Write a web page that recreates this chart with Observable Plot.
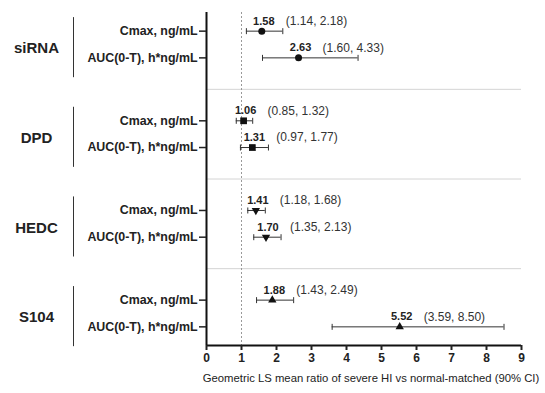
<!DOCTYPE html>
<html><head><meta charset="utf-8">
<script src="https://cdn.jsdelivr.net/npm/d3@7"></script>
<script src="https://cdn.jsdelivr.net/npm/@observablehq/plot@0.6"></script>
<style>body{margin:0;background:#fff;}</style>
</head><body><div id="chart"></div>
<script>
const groups = ["siRNA", "DPD", "HEDC", "S104"];
const metrics = ["Cmax, ng/mL", "AUC(0-T), h*ng/mL"];
const estimates = [1.58, 2.63, 1.06, 1.31, 1.41, 1.70, 1.88, 5.52];
const lowers    = [1.14, 1.60, 0.85, 0.97, 1.18, 1.35, 1.43, 3.59];
const uppers    = [2.18, 4.33, 1.32, 1.77, 1.68, 2.13, 2.49, 8.50];
const xTicks = [0, 1, 2, 3, 4, 5, 6, 7, 8, 9];
const refRatio = 1;
const xLabel = "Geometric LS mean ratio of severe HI vs normal-matched (90% CI)";

const W = 545, H = 393, ML = 206, MR = 24, MT = 12, MB = 48;
const font = "'Liberation Sans', Arial, Helvetica, sans-serif";
const rowOffset = 0.149;
const yDomain = [-0.357, groups.length - 1 + 0.357];

const rows = [];
groups.forEach((g, gi) => metrics.forEach((m, mi) => {
  const k = gi * metrics.length + mi;
  rows.push({gi, group: g, metric: m, y: gi + (mi === 0 ? -rowOffset : rowOffset),
    est: estimates[k], lo: lowers[k], hi: uppers[k]});
}));
const groupRows = groups.map((name, gi) => ({name, gi}));
const separators = groups.slice(1).map((_, i) => i + 0.5);
const labelMap = new Map(rows.map(r => [r.y, r.metric]));

const triangleDown = {draw(ctx, size) {
  const y = -Math.sqrt(size / (Math.sqrt(3) * 3));
  ctx.moveTo(0, -y * 2);
  ctx.lineTo(-Math.sqrt(3) * y, y);
  ctx.lineTo(Math.sqrt(3) * y, y);
  ctx.closePath();
}};
const capSymbol = {draw(ctx, size) {
  const r = Math.sqrt(size / Math.PI);
  ctx.moveTo(0, -r); ctx.lineTo(0, r);
}};
const symbols = ["circle", "square", triangleDown, "triangle"];
const symbolR = [3.5, 3.8, 3.1, 3.1];

const centerX = (ML + W - MR) / 2;

const chart = Plot.plot({
  width: W, height: H,
  marginLeft: ML, marginRight: MR, marginTop: MT, marginBottom: MB,
  style: {fontFamily: font, color: "#222", background: "#fff"},
  x: {domain: [0, 9]},
  y: {domain: yDomain, reverse: true},
  marks: [
    Plot.ruleY(separators, {stroke: "#d4d4d4", strokeWidth: 1}),
    Plot.ruleX([refRatio], {stroke: "#999", strokeDasharray: "2,2", strokeWidth: 1}),
    Plot.ruleX([0], {stroke: "#111", strokeWidth: 2}),
    Plot.ruleY([yDomain[1]], {stroke: "#111", strokeWidth: 2}),
    Plot.axisX({ticks: xTicks, tickSize: 5, tickPadding: 3, fontSize: 12, fontWeight: "bold", label: null, strokeWidth: 2}),
    Plot.axisY({ticks: rows.map(r => r.y), tickFormat: d => labelMap.get(d), tickSize: 7, tickPadding: 2,
      fontSize: 12.4, fontWeight: "bold", label: null, strokeWidth: 1.5}),
    Plot.text([xLabel], {frameAnchor: "bottom", dy: 36, dx: 7, fontSize: 11.3, fill: "#222"}),
    Plot.text(groupRows, {y: "gi", text: "name", frameAnchor: "left", textAnchor: "middle", dx: 36 - ML, dy: 4,
      fontSize: 15, fontWeight: "bold", fill: "#222"}),
    Plot.ruleX(groupRows, {x: null, y1: d => d.gi - 0.30, y2: d => d.gi + 0.37, dx: 73 - centerX, stroke: "#333", strokeWidth: 1}),
    Plot.ruleY(rows, {x1: "lo", x2: "hi", y: "y", stroke: "#333", strokeWidth: 1}),
    Plot.dot(rows, {x: "lo", y: "y", symbol: capSymbol, r: 3, stroke: "#333", fill: "none", strokeWidth: 1}),
    Plot.dot(rows, {x: "hi", y: "y", symbol: capSymbol, r: 3, stroke: "#333", fill: "none", strokeWidth: 1}),
    ...groups.map((g, gi) => Plot.dot(rows.filter(r => r.gi === gi),
      {x: "est", y: "y", symbol: symbols[gi], r: symbolR[gi], fill: "#111", stroke: "none"})),
    Plot.text(rows, {x: "est", y: "y", text: d => d.est.toFixed(2), dx: 2, dy: -10, fontSize: 11, fontWeight: "bold", fill: "#222"}),
    Plot.text(rows, {x: "est", y: "y", text: d => `(${d.lo.toFixed(2)}, ${d.hi.toFixed(2)})`, dx: 24, dy: -10,
      textAnchor: "start", fontSize: 12, fill: "#333"})
  ]
});
document.getElementById("chart").append(chart);
</script>
</body></html>
